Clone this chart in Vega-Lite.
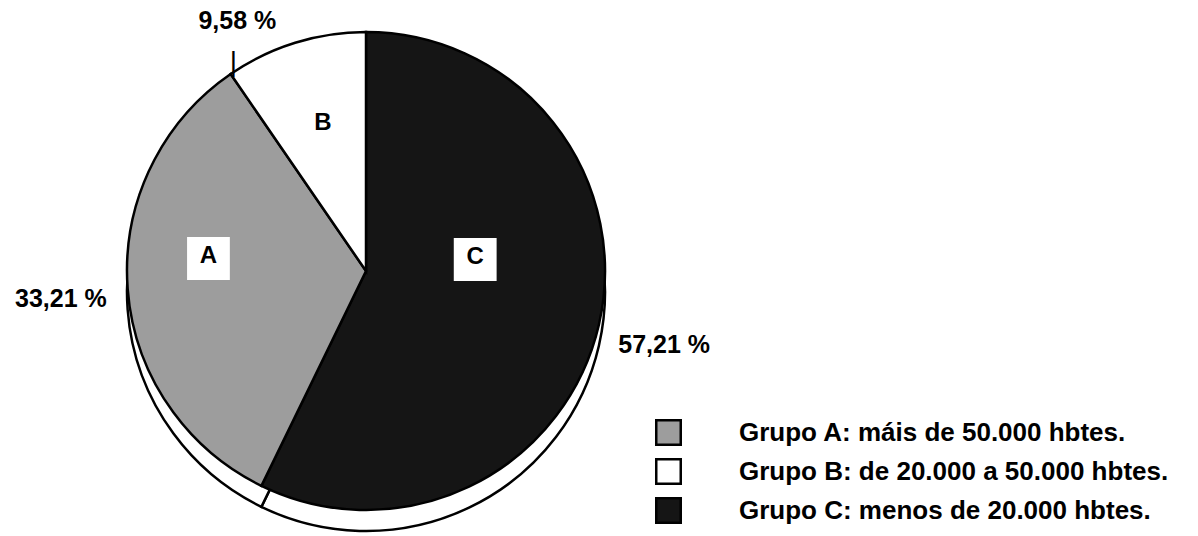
{
  "$schema": "https://vega.github.io/schema/vega-lite/v6.json",
  "width": 732,
  "height": 530,
  "autosize": {"type": "none"},
  "padding": {"left": 0, "top": 6, "right": 466, "bottom": 0},
  "background": "white",
  "config": {"view": {"stroke": null}, "font": "Liberation Sans"},
  "data": {
    "values": [
      {"grupo": "C", "orden": 1, "valor": 57.21, "pct": "57,21 %", "leyenda": "Grupo C: menos de 20.000 hbtes."},
      {"grupo": "A", "orden": 2, "valor": 33.21, "pct": "33,21 %", "leyenda": "Grupo A: máis de 50.000 hbtes."},
      {"grupo": "B", "orden": 3, "valor": 9.58, "pct": "9,58 %", "leyenda": "Grupo B: de 20.000 a 50.000 hbtes."}
    ]
  },
  "encoding": {
    "theta": {"field": "valor", "type": "quantitative", "stack": true},
    "order": {"field": "orden", "type": "quantitative"},
    "detail": {"field": "grupo", "type": "nominal"}
  },
  "layer": [
    {
      "mark": {"type": "arc", "outerRadius": 239, "fill": "white", "stroke": "black", "strokeWidth": 2.5, "yOffset": 21}
    },
    {
      "mark": {"type": "arc", "outerRadius": 239, "stroke": "black", "strokeWidth": 2.5},
      "encoding": {
        "color": {
          "field": "leyenda",
          "type": "nominal",
          "scale": {"range": ["#9d9d9d", "#ffffff", "#151515"]},
          "legend": {
            "title": null,
            "orient": "none",
            "legendX": 655,
            "legendY": 413,
            "padding": 0,
            "symbolType": "square",
            "symbolSize": 600,
            "symbolStrokeColor": "black",
            "symbolStrokeWidth": 2.5,
            "symbolOpacity": 1,
            "labelFont": "Liberation Sans",
            "labelFontSize": 26,
            "labelFontWeight": "bold",
            "labelColor": "black",
            "labelOffset": 57,
            "labelLimit": 700,
            "rowPadding": 4
          }
        }
      }
    },
    {
      "mark": {"type": "text", "radius": 306, "dy": 5, "fontSize": 25, "fontWeight": "bold", "color": "black"},
      "encoding": {"text": {"condition": {"test": "datum.grupo !== 'B'", "field": "pct"}, "value": ""}}
    },
    {
      "mark": {"type": "text", "radius": 262, "dx": -51, "fontSize": 25, "fontWeight": "bold", "color": "black"},
      "encoding": {"text": {"condition": {"test": "datum.grupo === 'B'", "field": "pct"}, "value": ""}}
    },
    {
      "mark": {"type": "text", "radius": 218, "dx": -68, "fontSize": 28, "color": "black"},
      "encoding": {"text": {"condition": {"test": "datum.grupo === 'B'", "value": "|"}, "value": ""}}
    },
    {
      "mark": {"type": "text", "radius": 158, "dy": -27, "font": "DejaVu Sans", "fontSize": 56, "color": "white"},
      "encoding": {"text": {"condition": {"test": "datum.grupo === 'A'", "value": "■"}, "value": ""}}
    },
    {
      "mark": {"type": "text", "radius": 112, "dy": -39, "font": "DejaVu Sans", "fontSize": 56, "color": "white"},
      "encoding": {"text": {"condition": {"test": "datum.grupo === 'C'", "value": "■"}, "value": ""}}
    },
    {
      "mark": {"type": "text", "radius": 158, "dy": -27, "fontSize": 24, "fontWeight": "bold", "color": "black"},
      "encoding": {"text": {"condition": {"test": "datum.grupo === 'A'", "field": "grupo"}, "value": ""}}
    },
    {
      "mark": {"type": "text", "radius": 112, "dy": -39, "fontSize": 24, "fontWeight": "bold", "color": "black"},
      "encoding": {"text": {"condition": {"test": "datum.grupo === 'C'", "field": "grupo"}, "value": ""}}
    },
    {
      "mark": {"type": "text", "radius": 145, "dy": -10, "fontSize": 24, "fontWeight": "bold", "color": "black"},
      "encoding": {"text": {"condition": {"test": "datum.grupo === 'B'", "field": "grupo"}, "value": ""}}
    }
  ]
}
